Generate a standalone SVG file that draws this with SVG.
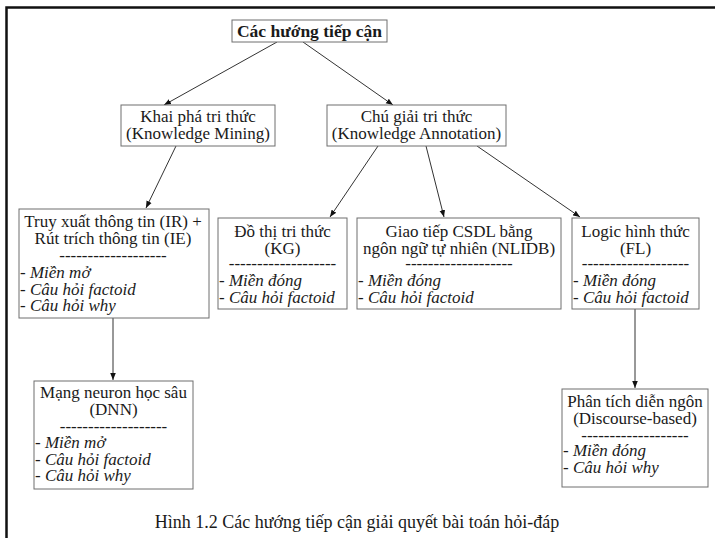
<svg xmlns="http://www.w3.org/2000/svg" width="715" height="538" viewBox="0 0 715 538">
<style>
.box{fill:#fff;stroke:#6e6e6e;stroke-width:1}
.t{font-family:"Liberation Serif","Times New Roman",serif;font-size:17px;fill:#1a1a1a}
.c{text-anchor:middle}
.b{font-weight:bold;font-size:17.5px}
.i{font-style:italic}
.edge{stroke:#333;stroke-width:1;fill:none;marker-end:url(#ah)}
</style>
<defs>
<marker id="ah" viewBox="0 0 8 8" refX="8" refY="4" markerWidth="7" markerHeight="7" markerUnits="userSpaceOnUse" orient="auto">
<path d="M0,0.8 L8,4 L0,7.2 z" fill="#111"/>
</marker>
</defs>
<rect width="715" height="538" fill="#fff"/>
<path d="M6.5,538 V7.5 H715" fill="none" stroke="#111" stroke-width="2.5"/>

<g id="connectors">
<line class="edge" x1="277" y1="42" x2="164" y2="105"/>
<line class="edge" x1="303" y1="42" x2="393" y2="105"/>
<line class="edge" x1="176" y1="146" x2="146" y2="208"/>
<line class="edge" x1="378" y1="146" x2="330" y2="217"/>
<line class="edge" x1="426" y1="146" x2="444" y2="217"/>
<line class="edge" x1="477" y1="146" x2="580" y2="217"/>
<line class="edge" x1="113" y1="318" x2="113" y2="380"/>
<line class="edge" x1="635" y1="309" x2="635" y2="388"/>
</g>

<g id="root">
<rect class="box" x="232" y="20" width="155" height="22"/>
<text class="t c b" x="309.5" y="36.5">Các hướng tiếp cận</text>
</g>

<g id="khai-pha">
<rect class="box" x="121" y="105" width="154" height="41"/>
<text class="t c" x="198" y="122">Khai phá tri thức</text>
<text class="t c" x="198" y="139">(Knowledge Mining)</text>
</g>

<g id="chu-giai">
<rect class="box" x="327" y="105" width="179" height="41"/>
<text class="t c" x="416.5" y="122">Chú giải tri thức</text>
<text class="t c" x="416.5" y="139">(Knowledge Annotation)</text>
</g>

<g id="truy-xuat">
<rect class="box" x="19" y="209" width="190" height="109"/>
<text class="t c" x="113" y="227">Truy xuất thông tin (IR) +</text>
<text class="t c" x="113" y="244">Rút trích thông tin (IE)</text>
<text class="t c" x="113" y="261">-------------------</text>
<text class="t" x="20" y="278">- <tspan class="i">Miền mở</tspan></text>
<text class="t" x="20" y="295">- <tspan class="i">Câu hỏi factoid</tspan></text>
<text class="t" x="20" y="311">- <tspan class="i">Câu hỏi why</tspan></text>
</g>

<g id="do-thi">
<rect class="box" x="218" y="218" width="129" height="91"/>
<text class="t c" x="282.5" y="237">Đồ thị tri thức</text>
<text class="t c" x="282.5" y="254">(KG)</text>
<text class="t c" x="282.5" y="269">-------------------</text>
<text class="t" x="219" y="286">- <tspan class="i">Miền đóng</tspan></text>
<text class="t" x="219" y="303">- <tspan class="i">Câu hỏi factoid</tspan></text>
</g>

<g id="giao-tiep">
<rect class="box" x="357" y="218" width="204" height="91"/>
<text class="t c" x="459" y="237">Giao tiếp CSDL bằng</text>
<text class="t c" x="459" y="254">ngôn ngữ tự nhiên (NLIDB)</text>
<text class="t c" x="459" y="269">-------------------</text>
<text class="t" x="358" y="286">- <tspan class="i">Miền đóng</tspan></text>
<text class="t" x="358" y="303">- <tspan class="i">Câu hỏi factoid</tspan></text>
</g>

<g id="logic">
<rect class="box" x="572" y="218" width="127" height="91"/>
<text class="t c" x="635.5" y="237">Logic hình thức</text>
<text class="t c" x="635.5" y="254">(FL)</text>
<text class="t c" x="635.5" y="269">-------------------</text>
<text class="t" x="573" y="286">- <tspan class="i">Miền đóng</tspan></text>
<text class="t" x="573" y="303">- <tspan class="i">Câu hỏi factoid</tspan></text>
</g>

<g id="mang-neuron">
<rect class="box" x="34" y="381" width="159" height="108"/>
<text class="t c" x="113.5" y="398">Mạng neuron học sâu</text>
<text class="t c" x="113.5" y="415">(DNN)</text>
<text class="t c" x="113.5" y="432">-------------------</text>
<text class="t" x="35" y="448">- <tspan class="i">Miền mở</tspan></text>
<text class="t" x="35" y="465">- <tspan class="i">Câu hỏi factoid</tspan></text>
<text class="t" x="35" y="481">- <tspan class="i">Câu hỏi why</tspan></text>
</g>

<g id="phan-tich">
<rect class="box" x="562" y="389" width="146" height="98"/>
<text class="t c" x="635" y="407">Phân tích diễn ngôn</text>
<text class="t c" x="635" y="424">(Discourse-based)</text>
<text class="t c" x="635" y="441">-------------------</text>
<text class="t" x="563" y="456">- <tspan class="i">Miền đóng</tspan></text>
<text class="t" x="563" y="473">- <tspan class="i">Câu hỏi why</tspan></text>
</g>

<text class="t c" x="357" y="528" style="font-size:18px">Hình 1.2 Các hướng tiếp cận giải quyết bài toán hỏi-đáp</text>
</svg>
